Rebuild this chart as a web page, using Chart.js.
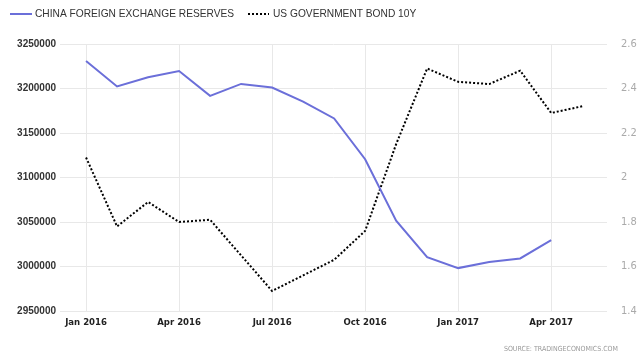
<!DOCTYPE html>
<html>
<head>
<meta charset="utf-8">
<script src="https://cdn.jsdelivr.net/npm/chart.js@4/dist/chart.umd.min.js"></script>
<style>
  html, body { margin: 0; padding: 0; background: #fff; }
  #wrap { width: 640px; height: 361px; position: relative; }
</style>
</head>
<body>
<div id="wrap"><canvas id="chart"></canvas></div>
<script>
// China FX reserves vs US 10Y bond yield, monthly Jan 2016 - May 2017

const monthLabels = ['Jan 2016', 'Feb 2016', 'Mar 2016', 'Apr 2016', 'May 2016', 'Jun 2016',
  'Jul 2016', 'Aug 2016', 'Sep 2016', 'Oct 2016', 'Nov 2016', 'Dec 2016',
  'Jan 2017', 'Feb 2017', 'Mar 2017', 'Apr 2017', 'May 2017'];
const tickMonths = [0, 3, 6, 9, 12, 15];

const chinaReserves = [3230890, 3202320, 3212580, 3219670, 3191740, 3205160, 3201050, 3185170,
  3166380, 3120550, 3051600, 3010520, 2998200, 3005120, 3009090, 3029530];
const bond10y = [2.09, 1.78, 1.89, 1.80, 1.81, 1.65, 1.49, 1.56, 1.63, 1.76, 2.15, 2.49,
  2.43, 2.42, 2.48, 2.29, 2.32];

const seriesNames = ['CHINA FOREIGN EXCHANGE RESERVES', 'US GOVERNMENT BOND 10Y'];
const sourceText = 'SOURCE: TRADINGECONOMICS.COM';

const SANS = "'Liberation Sans', Arial, sans-serif";
const COND = "'DejaVu Sans Condensed', 'Liberation Sans', Arial, sans-serif";
const BLUE = '#6b6fd9';

// --- Legend + source drawn on the canvas ---
const extras = {
  id: 'extras',
  afterDraw(chart) {
    const ctx = chart.ctx;
    ctx.save();
    ctx.textBaseline = 'middle';
    ctx.font = '10.2px ' + SANS;
    ctx.fillStyle = '#333';

    // blue solid
    ctx.strokeStyle = BLUE;
    ctx.lineWidth = 2;
    ctx.beginPath();
    ctx.moveTo(10, 14); ctx.lineTo(32, 14);
    ctx.stroke();
    ctx.fillText(seriesNames[0], 35, 14.5);

    // black dotted
    ctx.strokeStyle = '#000';
    ctx.setLineDash([2, 2]);
    ctx.beginPath();
    ctx.moveTo(248, 14); ctx.lineTo(269, 14);
    ctx.stroke();
    ctx.setLineDash([]);
    ctx.fillText(seriesNames[1], 273, 14.5);

    ctx.font = '7px ' + COND;
    ctx.fillStyle = '#999';
    ctx.textAlign = 'right';
    ctx.fillText(sourceText, 618, 349);
    ctx.restore();
  }
};

new Chart(document.getElementById('chart'), {
  type: 'line',
  data: {
    datasets: [{
      label: seriesNames[0],
      data: chinaReserves.map((v, i) => ({ x: i, y: v })),
      borderColor: BLUE,
      borderWidth: 2,
      pointRadius: 0,
      tension: 0,
      yAxisID: 'y',
    }, {
      label: seriesNames[1],
      data: bond10y.map((v, i) => ({ x: i, y: v })),
      borderColor: '#000',
      borderWidth: 2,
      borderDash: [2, 2],
      pointRadius: 0,
      tension: 0,
      yAxisID: 'y1',
    }],
  },
  options: {
    responsive: true,
    maintainAspectRatio: false,
    animation: false,
    layout: { padding: { top: 44, bottom: 20, left: 0, right: 0 } },
    plugins: {
      legend: { display: false },
      tooltip: { enabled: false },
    },
    scales: {
      x: {
        type: 'linear',
        min: -0.84,
        max: 16.8,
        afterBuildTicks: scale => { scale.ticks = tickMonths.map(v => ({ value: v })); },
        afterFit: scale => { scale.height = 30; },
        ticks: {
          autoSkip: false,
          maxRotation: 0,
          padding: 6,
          color: '#222',
          font: { family: COND, size: 9.5, weight: 'bold' },
          callback: v => monthLabels[v],
        },
        grid: { color: '#e8e8e8', drawTicks: false },
        border: { display: false },
      },
      y: {
        position: 'left',
        min: 2950000,
        max: 3250000,
        afterFit: scale => { scale.width = 60; },
        ticks: {
          stepSize: 50000,
          padding: 4,
          color: '#333',
          font: { family: SANS, size: 10, weight: 'bold' },
          callback: v => String(v),
        },
        grid: { color: '#e8e8e8', drawTicks: false },
        border: { display: false },
      },
      y1: {
        position: 'right',
        min: 1.4,
        max: 2.6,
        afterFit: scale => { scale.width = 33; },
        ticks: {
          stepSize: 0.2,
          padding: 6,
          color: '#aaa',
          font: { family: COND, size: 11 },
          callback: v => String(+v.toFixed(1)),
        },
        grid: { display: false },
        border: { display: false },
      },
    },
  },
  plugins: [extras],
});
</script>
</body>
</html>
